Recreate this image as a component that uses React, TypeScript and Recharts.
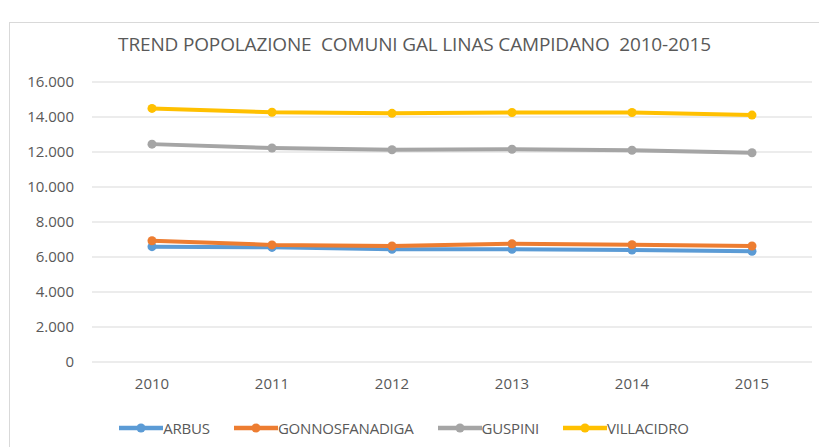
import React from "react";
import { LineChart, Line, XAxis, YAxis, CartesianGrid, Legend } from "recharts";

const years = ["2010", "2011", "2012", "2013", "2014", "2015"];
const arbus = [6590, 6550, 6440, 6440, 6400, 6330];
const gonnosfanadiga = [6930, 6690, 6630, 6760, 6700, 6630];
const guspini = [12450, 12230, 12130, 12160, 12100, 11960];
const villacidro = [14490, 14270, 14210, 14260, 14260, 14110];
const yTicks = [0, 2000, 4000, 6000, 8000, 10000, 12000, 14000, 16000];

const series = [
  { key: "ARBUS", values: arbus, color: "#5B9BD5" },
  { key: "GONNOSFANADIGA", values: gonnosfanadiga, color: "#ED7D31" },
  { key: "GUSPINI", values: guspini, color: "#A5A5A5" },
  { key: "VILLACIDRO", values: villacidro, color: "#FFC000" },
];

const chartData = years.map((year, i) => {
  const row: Record<string, string | number> = { year };
  series.forEach((s) => {
    row[s.key] = s.values[i];
  });
  return row;
});

const FONT = "'Open Sans', sans-serif";
const TEXT = "#595959";

// 16000 -> "16.000"
const fmt = (v: number) => String(v).replace(/\B(?=(\d{3})+(?!\d))/g, ".");

const LegendContent = () => (
  <div
    style={{
      display: "flex",
      justifyContent: "center",
      gap: 24,
      height: 24,
      alignItems: "center",
      fontFamily: FONT,
      fontSize: 15,
      letterSpacing: -0.2,
      color: TEXT,
      paddingRight: 4,
    }}
  >
    {series.map((s) => (
      <div key={s.key} style={{ display: "flex", alignItems: "center" }}>
        <svg width={44} height={12}>
          <line x1={0} y1={6} x2={44} y2={6} stroke={s.color} strokeWidth={4.5} />
          <circle cx={22} cy={6} r={4.5} fill={s.color} />
        </svg>
        <span>{s.key}</span>
      </div>
    ))}
  </div>
);

export default function App() {
  return (
    <div style={{ position: "absolute", left: 0, top: 0, width: 819, height: 447, background: "#fff", overflow: "hidden" }}>
      <div
        style={{
          position: "absolute",
          left: 9,
          top: 22,
          width: 830,
          height: 450,
          border: "1px solid #D9D9D9",
        }}
      />
      <div
        style={{
          position: "absolute",
          left: 0,
          top: 31,
          width: 819,
          paddingLeft: 10,
          boxSizing: "border-box",
          textAlign: "center",
          fontFamily: FONT,
          fontSize: 19,
          letterSpacing: -0.15,
          color: TEXT,
        }}
      >
        TREND POPOLAZIONE&nbsp; COMUNI GAL LINAS CAMPIDANO&nbsp; 2010-2015
      </div>
      <LineChart
        width={819}
        height={447}
        data={chartData}
        margin={{ top: 82, right: 7, bottom: 7, left: 0 }}
        style={{ position: "absolute", left: 0, top: 0 }}
      >
        <CartesianGrid vertical={false} stroke="#D9D9D9" />
        <XAxis
          dataKey="year"
          axisLine={false}
          tickLine={false}
          tickSize={0}
          tickMargin={16}
          height={54}
          padding={{ left: 60, right: 60 }}
          tick={{ fill: TEXT, fontSize: 15, fontFamily: FONT }}
        />
        <YAxis
          domain={[0, 16000]}
          ticks={yTicks}
          tickFormatter={fmt}
          axisLine={false}
          tickLine={false}
          tickSize={0}
          tickMargin={18}
          width={92}
          tick={{ fill: TEXT, fontSize: 15, fontFamily: FONT }}
        />
        <Legend verticalAlign="bottom" height={24} content={<LegendContent />} />
        {series.map((s) => (
          <Line
            key={s.key}
            dataKey={s.key}
            stroke={s.color}
            strokeWidth={4}
            dot={{ r: 4.5, fill: s.color, stroke: "none" }}
            activeDot={false}
            isAnimationActive={false}
          />
        ))}
      </LineChart>
    </div>
  );
}
